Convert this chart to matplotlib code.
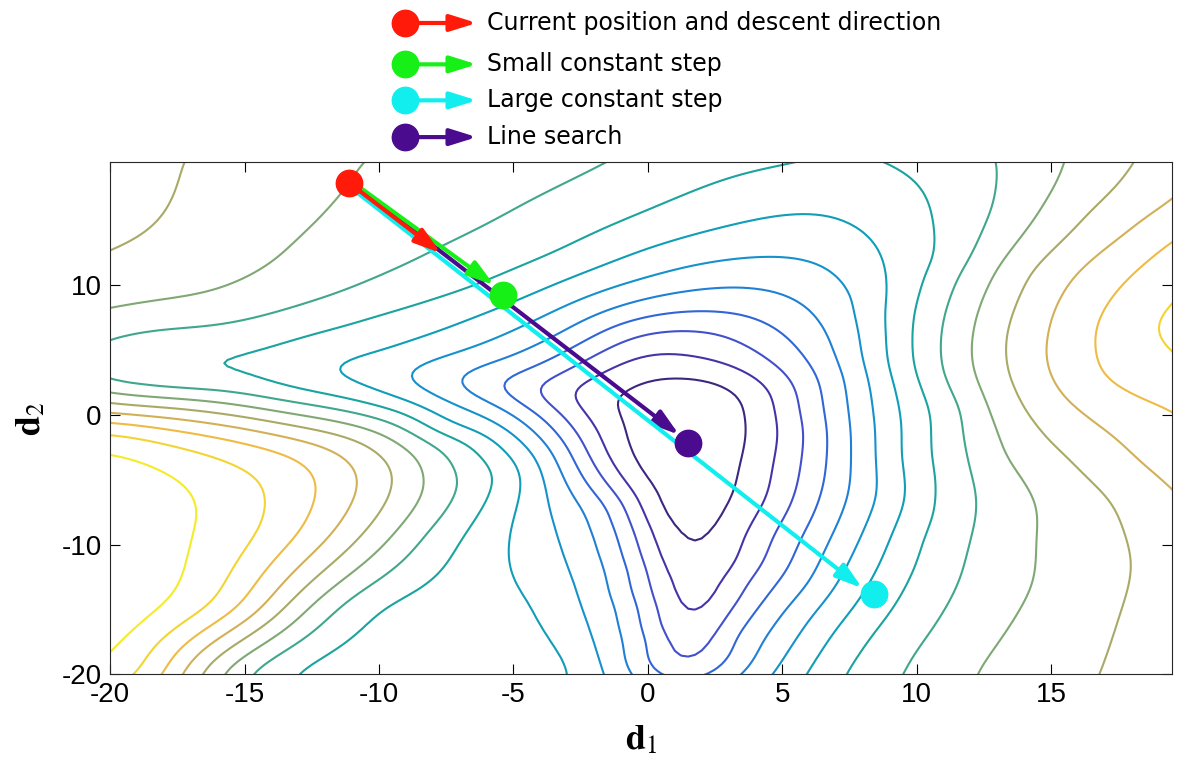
import numpy as np
import matplotlib
matplotlib.use("Agg")
import matplotlib.pyplot as plt
from matplotlib.transforms import ScaledTranslation
from matplotlib.lines import Line2D
from matplotlib.patches import FancyArrowPatch

plt.rcParams["axes.unicode_minus"] = False
plt.rcParams["mathtext.fontset"] = "stix"

# contour traces: (d1, d2) points on each level line
lv1 = [(-1.4, 1.2), (-0.6, 2.1), (-0.2, 2.7), (1.1, 2.9), (2.2, 2.8), (3.4, 1.7), (3.7, -1.0),
       (3.5, -3.5), (3.3, -5.5), (2.8, -7.5), (2.3, -9.4), (2.0, -10.5), (1.66, -11.5), (1.3, -10.5),
       (1.0, -9.5), (0.3, -7.1), (-0.3, -4.5), (-0.7, -2.7), (-1.0, -0.2)]
lv2 = [(-3.0, 1.5), (-1.6, 3.4), (-0.3, 4.6), (1.8, 4.4), (3.65, 3.3), (4.65, 1.7), (4.9, -1.0),
       (4.7, -3.7), (4.5, -6.3), (3.6, -9.5), (2.8, -13.0), (2.5, -14.6), (2.0, -16.0), (1.6, -17.0),
       (1.2, -16.0), (1.0, -15.2), (0.6, -12.0), (0.15, -9.5), (-0.3, -7.1), (-1.7, -2.7), (-2.3, -0.2)]
lv3 = [(-4.3, 1.9), (-3.2, 3.2), (-2.0, 4.6), (-0.22, 6.3), (2.3, 6.5), (4.5, 4.2), (5.5, 1.8),
       (5.6, 0.4), (5.4, -6.3), (4.6, -9.5), (3.6, -13.0), (3.0, -15.0), (2.5, -17.0), (2.0, -18.6),
       (1.35, -19.6), (0.8, -18.8), (0.75, -17.5), (0.35, -15.0), (-0.1, -12.0), (-0.45, -9.5),
       (-0.85, -7.1), (-2.3, -2.7), (-3.3, 0.3)]
lv4 = [(-5.7, 2.2), (-4.4, 3.5), (-2.6, 5.4), (-0.22, 7.5), (2.3, 8.0), (5.0, 6.3), (6.3, 3.0),
       (6.54, 0.4), (6.4, -6.3), (5.7, -9.5), (4.8, -13.0), (3.1, -17.0), (2.2, -20.0), (0.3, -20.0),
       (0.05, -17.5), (-0.22, -15.0), (-0.6, -12.0), (-0.95, -9.5), (-1.34, -7.1), (-2.9, -2.7),
       (-4.2, 0.2)]
lv5 = [(-7.2, 2.7), (-5.6, 4.1), (-3.3, 6.2), (-0.22, 8.9), (3.1, 9.9), (5.7, 8.6), (6.7, 6.3),
       (7.3, 3.0), (7.47, 0.4), (7.4, -6.3), (6.8, -9.5), (6.0, -13.0), (4.5, -17.0), (3.5, -20.0),
       (-0.57, -20.0), (-0.85, -17.5), (-1.1, -15.0), (-1.5, -12.0), (-1.95, -9.5), (-2.46, -7.1),
       (-3.6, -2.7), (-5.2, 0.3)]
lv6 = [(-9.1, 3.2), (-7.3, 4.6), (-4.5, 7.0), (-0.22, 10.5), (4.1, 12.2), (6.6, 11.5), (7.7, 8.9),
       (7.9, 6.3), (8.34, 0.4), (8.5, -6.3), (7.9, -9.5), (7.0, -13.0), (5.6, -17.0), (4.6, -20.0),
       (-1.6, -20.0), (-2.0, -17.5), (-2.45, -15.0), (-2.9, -12.0), (-3.3, -9.5), (-3.7, -7.1),
       (-4.3, -2.7), (-6.3, 0.3)]
lv7 = [(-11.9, 3.3), (-9.8, 4.9), (-6.5, 7.5), (-3.3, 10.2), (-0.22, 12.7), (3.0, 14.6), (6.0, 15.6),
       (7.8, 14.5), (8.7, 12.0), (8.8, 8.1), (8.9, 4.0), (9.33, 0.4), (9.4, -3.0), (9.6, -6.3),
       (9.0, -9.5), (8.2, -13.0), (6.8, -17.0), (5.9, -20.0), (-2.8, -19.7), (-3.5, -17.5),
       (-4.2, -14.8), (-5.2, -10.9), (-5.1, -8.5), (-4.7, -5.5), (-5.4, -2.7), (-7.4, -0.9), (-9.9, 1.7)]
lv8 = [(-17.4, 3.7), (-13.9, 5.3), (-10.2, 7.6), (-6.5, 9.9), (-3.5, 12.5), (-0.22, 15.6), (3.0, 18.3),
       (6.0, 19.6), (8.6, 19.6), (10.2, 17.5), (10.6, 15.3), (10.7, 12.0), (9.8, 6.3), (10.0, 3.0),
       (10.45, 0.4), (10.5, -3.0), (10.6, -6.3), (10.2, -9.5), (9.6, -13.0), (8.3, -17.0), (7.3, -20.0),
       (-13.0, -19.7), (-9.9, -14.8), (-7.0, -9.7), (-5.6, -4.5), (-6.8, -1.9), (-8.7, -0.13),
       (-13.6, 2.2)]
lv9 = [(-20.0, 5.8), (-16.4, 6.8), (-11.5, 9.4), (-7.7, 13.0), (-4.5, 16.4), (-1.4, 19.6),
       (13.0, 19.6), (12.8, 15.8), (11.6, 11.0), (10.9, 6.3), (11.0, 3.0), (11.7, 0.4), (11.9, -3.0),
       (12.2, -6.3), (12.0, -9.5), (11.5, -13.0), (10.4, -17.0), (9.5, -20.0), (-14.8, -20.0),
       (-11.5, -14.8), (-8.3, -9.2), (-7.3, -4.2), (-8.8, -1.3), (-12.0, 0.6), (-17.4, 1.9),
       (-20.0, 2.5)]
lv10 = [(-20.0, 8.2), (-16.4, 9.4), (-13.2, 13.3), (-11.1, 17.9), (-10.6, 19.6), (15.5, 19.6),
        (14.5, 15.5), (12.8, 10.5), (12.1, 6.3), (12.2, 3.0), (12.6, 0.4), (13.2, -3.0), (14.3, -6.3),
        (14.4, -9.5), (14.3, -13.0), (13.2, -17.0), (12.2, -20.0), (-15.9, -20.0), (-12.6, -14.8),
        (-9.3, -8.8), (-8.4, -4.0), (-9.8, -1.5), (-13.0, 0.0), (-17.4, 1.3), (-20.0, 1.7)]
lv11 = [(-20.0, 12.7), (-18.3, 14.8), (-17.3, 19.6), (18.1, 19.6), (16.3, 15.5), (14.2, 11.0),
        (13.3, 6.3), (13.4, 3.0), (14.0, 0.4), (15.5, -3.0), (17.2, -6.5), (18.0, -11.2), (17.6, -15.0),
        (16.8, -20.0), (-16.6, -20.0), (-13.5, -14.8), (-10.3, -8.5), (-9.5, -4.2), (-11.0, -1.8),
        (-14.0, -0.5), (-17.4, 0.5), (-20.0, 0.9)]
lv12 = [(19.5, 16.6), (17.8, 14.0), (15.6, 10.0), (14.9, 6.3), (15.0, 3.0), (16.0, 0.4), (18.2, -3.5),
        (19.5, -5.8), (-17.3, -20.0), (-14.3, -14.8), (-11.5, -8.5), (-10.8, -4.5), (-12.2, -2.3),
        (-15.0, -1.0), (-17.4, -0.3), (-20.0, 0.15)]
lv13 = [(19.5, 13.5), (17.6, 10.0), (16.6, 6.5), (16.9, 3.0), (18.4, 1.2), (19.5, 0.4),
        (-18.0, -20.0), (-15.2, -14.8), (-12.9, -9.0), (-12.3, -5.3), (-13.6, -2.9), (-16.0, -1.7),
        (-17.4, -1.2), (-20.0, -0.5)]
lv14 = [(19.5, 8.6), (19.0, 6.8), (19.5, 5.0), (-18.8, -20.0), (-16.3, -14.8), (-14.8, -10.0),
        (-14.2, -6.6), (-15.2, -4.0), (-17.4, -2.5), (-20.0, -1.4)]
lv15 = [(-20.0, -18.4), (-17.7, -14.0), (-17.0, -10.5), (-16.7, -7.5), (-18.0, -4.3), (-20.0, -2.9)]
# a few extra heights between lines (valley floor, saddle, hill tops, corners)
extra_pts = [(1.4, -2.0, 0.0), (1.6, -8.0, 0.4), (1.6, -10.5, 0.8), (1.6, -14.0, 1.35),
             (1.6, -16.5, 1.85), (1.5, -18.5, 2.4),
             (-20.0, 3.9, 8.45), (7.3, 19.6, 7.8), (-8.0, -20.0, 7.6),
             (-20.0, 19.6, 11.6), (19.5, 19.6, 11.5), (19.5, -20.0, 11.5), (19.5, 6.8, 14.3),
             (-20.0, -9.0, 15.6), (-20.0, -20.0, 14.5)]
contour_levels = list(range(1, 16))
level_colors = ["#3d2680", "#4533a8", "#4250cc", "#3066d6", "#1f80d6", "#1591cc", "#109db8",
                "#1ba39f", "#40a78c", "#80a875", "#a9aa66", "#d2b058", "#eebb45", "#f2d434", "#f4ec28"]

# descent path points: current, small step, line search, large step
path_x = [-11.1, -5.4, 1.5, 8.4]
path_y = [17.9, 9.3, -2.2, -13.8]
dir_tip = (-7.7, 12.5)

legend_labels = ["Current position and descent direction", "Small constant step",
                 "Large constant step", "Line search"]
legend_colors = ["#ff1a0a", "#16f016", "#12eeee", "#4b0b8f"]


def tps_surface(px, py, pv, gx, gy, smooth=0.6):
    """Thin plate spline through the traced points, evaluated on a grid."""
    def kern(r):
        with np.errstate(divide="ignore", invalid="ignore"):
            k = r ** 2 * np.log(r)
        return np.nan_to_num(k)
    n = len(px)
    r = np.hypot(px[:, None] - px[None, :], py[:, None] - py[None, :])
    P = np.column_stack([np.ones(n), px, py])
    A = np.block([[kern(r) + smooth * np.eye(n), P], [P.T, np.zeros((3, 3))]])
    sol = np.linalg.solve(A, np.concatenate([pv, np.zeros(3)]))
    w, a = sol[:n], sol[n:]
    X, Y = np.meshgrid(gx, gy)
    rg = np.hypot(X.ravel()[:, None] - px[None, :], Y.ravel()[:, None] - py[None, :])
    Z = kern(rg) @ w + a[0] + a[1] * X.ravel() + a[2] * Y.ravel()
    return X, Y, Z.reshape(X.shape)


def blur(Z, sigma):
    """Separable gaussian blur (sigma in grid cells), 'valid' at the borders."""
    r = int(3 * sigma)
    k = np.exp(-0.5 * (np.arange(-r, r + 1) / sigma) ** 2)
    k /= k.sum()
    Z = np.apply_along_axis(lambda v: np.convolve(v, k, mode="valid"), 0, Z)
    Z = np.apply_along_axis(lambda v: np.convolve(v, k, mode="valid"), 1, Z)
    return Z, r


traces = [lv1, lv2, lv3, lv4, lv5, lv6, lv7, lv8, lv9, lv10, lv11, lv12, lv13, lv14, lv15]
sx, sy, sv = [], [], []
for lvl, pts in zip(contour_levels, traces):
    for x, y in pts:
        sx.append(x); sy.append(y); sv.append(lvl)
for x, y, v in extra_pts:
    sx.append(x); sy.append(y); sv.append(v)

step = 0.25
grid = np.arange(-22.5, 22.01, step)
X, Y, Z = tps_surface(np.array(sx), np.array(sy), np.array(sv, float), grid, grid)
Z, r = blur(Z, 0.65 / step)
X, Y = X[r:-r, r:-r], Y[r:-r, r:-r]

fig = plt.figure(figsize=(11.84, 7.66), dpi=100)
ax = fig.add_axes([0.093, 0.12, 0.897, 0.668])

ax.contour(X, Y, Z, levels=contour_levels, colors=level_colors, linewidths=1.5, zorder=1)

# arrows, slightly shifted sideways so the overlapping ones stay visible
shifts = {"purple": (0.6, 0.8), "cyan": (-1.2, -1.5), "green": (1.2, 1.5), "red": (0, 0)}
head = "-|>,head_length=0.8,head_width=0.25"


def draw_arrow(x0, y0, x1, y1, color, shift, shrink):
    tr = ax.transData + ScaledTranslation(shift[0] / 72, shift[1] / 72, fig.dpi_scale_trans)
    ax.annotate("", xy=(x1, y1), xytext=(x0, y0), xycoords=tr, textcoords=tr,
                arrowprops=dict(arrowstyle=head, color=color, lw=3, shrinkA=0, shrinkB=shrink,
                                mutation_scale=20), zorder=3)


draw_arrow(path_x[0], path_y[0], path_x[2], path_y[2], legend_colors[3], shifts["purple"], 9)
draw_arrow(path_x[0], path_y[0], path_x[3], path_y[3], legend_colors[2], shifts["cyan"], 9)
draw_arrow(path_x[0], path_y[0], path_x[1], path_y[1], legend_colors[1], shifts["green"], 9)
draw_arrow(path_x[0], path_y[0], dir_tip[0], dir_tip[1], legend_colors[0], shifts["red"], 0)

for i, c in zip([3, 2, 1, 0], [legend_colors[2], legend_colors[3], legend_colors[1], legend_colors[0]]):
    ax.plot(path_x[i], path_y[i], "o", ms=19, color=c, zorder=4)

ax.set_xlim(-20, 19.5)
ax.set_ylim(-20, 19.5)
ax.set_xticks(range(-20, 16, 5))
ax.set_yticks([-20, -10, 0, 10])
ax.tick_params(direction="in", length=7, width=0.8, top=True, right=True, labelsize=20, pad=6)
for lab in ax.get_xticklabels() + ax.get_yticklabels():
    lab.set_fontfamily("Liberation Sans")
for sp in ax.spines.values():
    sp.set_color("#262626")
    sp.set_linewidth(0.8)
ax.set_xlabel(r"$\mathbf{d}_1$", fontsize=26, labelpad=10)
ax.set_ylabel(r"$\mathbf{d}_2$", fontsize=26, labelpad=10)

# legend above the axes
leg_y = [0.970, 0.916, 0.869, 0.821]
for y, lab, c in zip(leg_y, legend_labels, legend_colors):
    fig.add_artist(FancyArrowPatch((0.342, y), (0.405, y), transform=fig.transFigure,
                                   arrowstyle=head, mutation_scale=20, lw=3, color=c))
    fig.add_artist(Line2D([0.342], [y], marker="o", ms=19, color=c, transform=fig.transFigure))
    fig.text(0.411, y, lab, va="center", ha="left", fontsize=17, family="DejaVu Sans")

fig.savefig("out.png", dpi=100)
